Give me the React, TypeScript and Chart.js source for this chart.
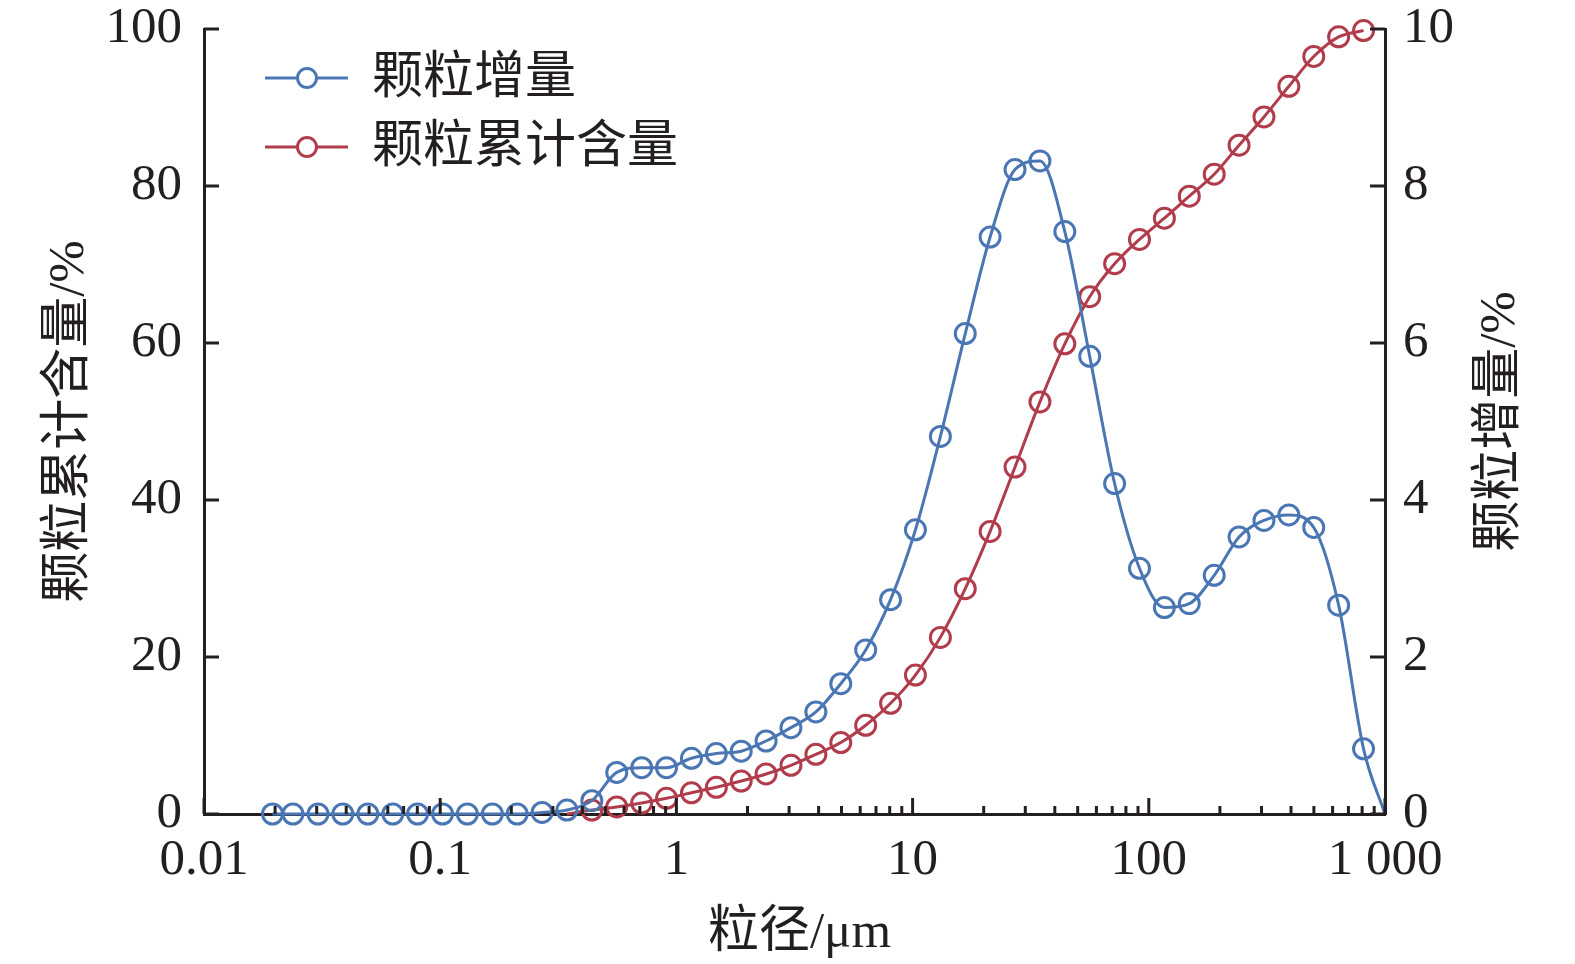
import React, { useEffect, useRef } from "react";
import { Chart, registerables } from "chart.js";

Chart.register(...registerables);

// particle size (μm)
const sizes = [
  0.0195, 0.0238, 0.0304, 0.0387, 0.0494, 0.063, 0.0802, 0.1023, 0.1303, 0.1663,
  0.2118, 0.27, 0.344, 0.4385, 0.559, 0.713, 0.908, 1.158, 1.476, 1.881,
  2.397, 3.055, 3.895, 4.965, 6.329, 8.067, 10.28, 13.11, 16.71, 21.29,
  27.14, 34.6, 44.1, 56.21, 71.65, 91.32, 116.4, 148.4, 189.2, 241.1,
  307.3, 391.7, 499.3, 636.4, 811.2, 1000,
];

// 颗粒增量 (%), right axis
const incrementValues = [
  0, 0, 0, 0, 0, 0, 0, 0, 0, 0,
  0, 0.02, 0.05, 0.17, 0.53, 0.59, 0.59, 0.71, 0.77, 0.8,
  0.93, 1.1, 1.3, 1.66, 2.09, 2.73, 3.62, 4.81, 6.12, 7.35,
  8.21, 8.32, 7.42, 5.83, 4.21, 3.13, 2.63, 2.68, 3.04, 3.53,
  3.74, 3.81, 3.65, 2.66, 0.83, 0,
];

// 颗粒累计含量 (%), left axis
const cumulativeValues = [
  null, null, null, null, null, null, null, null, null, null,
  null, null, 0, 0.5, 0.9, 1.4, 2.0, 2.7, 3.4, 4.2,
  5.1, 6.2, 7.6, 9.1, 11.3, 14.1, 17.7, 22.5, 28.7, 36.0,
  44.2, 52.5, 59.9, 65.9, 70.1, 73.2, 75.9, 78.7, 81.5, 85.2,
  88.8, 92.7, 96.5, 99.0, 99.8, null,
];

const seriesNames = ["颗粒增量", "颗粒累计含量"];
const xMajorTicks = [0.01, 0.1, 1, 10, 100, 1000];
const xTickLabels = ["0.01", "0.1", "1", "10", "100", "1 000"];
const xMinorMultipliers = [2, 3, 4, 5, 6, 7, 8, 9];
const leftTicks = [0, 20, 40, 60, 80, 100];
const rightTicks = [0, 2, 4, 6, 8, 10];
const xTitle = "粒径/μm";
const leftTitle = "颗粒累计含量/%";
const rightTitle = "颗粒增量/%";

const BLUE = "#4a76b4";
const RED = "#b03c4c";
const INK = "#231f20";
const SERIF = "'Liberation Serif', 'Noto Sans CJK SC', serif";

export default function App() {
  const ref = useRef<HTMLCanvasElement | null>(null);

  useEffect(() => {
    const canvas = ref.current;
    if (!canvas) return;
    const lastIdx = sizes.length - 1;

    const overlay = {
      id: "overlay",
      afterDraw(chart: any) {
        const ctx = chart.ctx;
        const a = chart.chartArea;
        const xs = chart.scales.x;
        const yl = chart.scales.yL;
        const yr = chart.scales.yR;
        ctx.save();
        ctx.strokeStyle = INK;
        ctx.lineWidth = 3;
        ctx.lineCap = "butt";
        // x ticks (inward)
        xMajorTicks.forEach((v, i) => {
          const px = xs.getPixelForValue(v);
          ctx.beginPath();
          ctx.moveTo(px, a.bottom);
          ctx.lineTo(px, a.bottom - 16);
          ctx.stroke();
          if (i < xMajorTicks.length - 1) {
            xMinorMultipliers.forEach((m) => {
              const mx = xs.getPixelForValue(v * m);
              ctx.beginPath();
              ctx.moveTo(mx, a.bottom);
              ctx.lineTo(mx, a.bottom - 8);
              ctx.stroke();
            });
          }
        });
        leftTicks.forEach((v) => {
          const py = yl.getPixelForValue(v);
          ctx.beginPath();
          ctx.moveTo(a.left, py);
          ctx.lineTo(a.left + 15, py);
          ctx.stroke();
        });
        rightTicks.forEach((v) => {
          const py = yr.getPixelForValue(v);
          ctx.beginPath();
          ctx.moveTo(a.right, py);
          ctx.lineTo(a.right - 15, py);
          ctx.stroke();
        });

        // titles
        ctx.fillStyle = INK;
        ctx.font = `51px ${SERIF}`;
        ctx.textAlign = "center";
        ctx.textBaseline = "middle";
        ctx.fillText(xTitle, (a.left + a.right) / 2 + 5, 934);
        const cy = (a.top + a.bottom) / 2;
        ctx.save();
        ctx.translate(70, cy);
        ctx.rotate(-Math.PI / 2);
        ctx.fillText(leftTitle, 0, 0);
        ctx.restore();
        ctx.save();
        ctx.translate(1501, cy);
        ctx.rotate(-Math.PI / 2);
        ctx.fillText(rightTitle, 0, 0);
        ctx.restore();

        // legend
        const colors = [BLUE, RED];
        const rows = [78, 147];
        ctx.font = `51px ${SERIF}`;
        ctx.textAlign = "left";
        seriesNames.forEach((name, i) => {
          const y = rows[i];
          ctx.strokeStyle = colors[i];
          ctx.lineWidth = 3;
          ctx.beginPath();
          ctx.moveTo(265, y);
          ctx.lineTo(348, y);
          ctx.stroke();
          ctx.beginPath();
          ctx.arc(307, y, 9.5, 0, Math.PI * 2);
          ctx.fillStyle = "#ffffff";
          ctx.fill();
          ctx.stroke();
          ctx.fillStyle = INK;
          ctx.fillText(name, 372, y + 2);
        });
        ctx.restore();
      },
    };

    const fixV = (w: number) => (s: any) => {
      s.width = w;
      s.paddingTop = 0;
      s.paddingBottom = 0;
    };

    const chart = new Chart(canvas, {
      type: "line",
      data: {
        datasets: [
          {
            label: seriesNames[0],
            yAxisID: "yR",
            data: sizes.map((s, i) => ({ x: s, y: incrementValues[i] })),
            borderColor: BLUE,
            backgroundColor: "rgba(0,0,0,0)",
            borderWidth: 3,
            pointRadius: (c: any) => (c.dataIndex === lastIdx ? 0 : 10),
            pointBorderWidth: 3,
            pointBorderColor: BLUE,
            pointBackgroundColor: "rgba(0,0,0,0)",
            cubicInterpolationMode: "monotone",
            clip: false,
          },
          {
            label: seriesNames[1],
            yAxisID: "yL",
            data: sizes.map((s, i) => ({ x: s, y: cumulativeValues[i] })),
            borderColor: RED,
            backgroundColor: "rgba(0,0,0,0)",
            borderWidth: 3,
            pointRadius: (c: any) => (c.dataIndex === 12 ? 0 : 10),
            pointBorderWidth: 3,
            pointBorderColor: RED,
            pointBackgroundColor: "rgba(0,0,0,0)",
            cubicInterpolationMode: "monotone",
            clip: false,
          },
        ],
      },
      options: {
        responsive: false,
        animation: false,
        layout: { padding: { top: 29, left: 0, right: 0, bottom: 0 } },
        plugins: { legend: { display: false }, tooltip: { enabled: false } },
        scales: {
          x: {
            type: "logarithmic",
            min: 0.01,
            max: 1000,
            afterBuildTicks: (s: any) => {
              s.ticks = xMajorTicks.map((v) => ({ value: v }));
            },
            afterFit: (s: any) => {
              s.height = 964 - 814;
              s.paddingLeft = 0;
              s.paddingRight = 0;
            },
            ticks: {
              autoSkip: false,
              maxRotation: 0,
              padding: 16,
              color: INK,
              font: { family: SERIF, size: 51 },
              callback: (v: any) => {
                const i = xMajorTicks.findIndex((m) => Math.abs(m - Number(v)) < m * 1e-6);
                return i >= 0 ? xTickLabels[i] : "";
              },
            },
            grid: { display: false, drawTicks: false },
            border: { display: true, color: INK, width: 3 },
          },
          yL: {
            type: "linear",
            position: "left",
            min: 0,
            max: 100,
            afterBuildTicks: (s: any) => {
              s.ticks = leftTicks.map((v) => ({ value: v }));
            },
            afterFit: fixV(204),
            ticks: {
              padding: 22,
              color: INK,
              font: { family: SERIF, size: 51, lineHeight: 1 },
            },
            grid: { display: false, drawTicks: false },
            border: { display: true, color: INK, width: 3 },
          },
          yR: {
            type: "linear",
            position: "right",
            min: 0,
            max: 10,
            afterBuildTicks: (s: any) => {
              s.ticks = rightTicks.map((v) => ({ value: v }));
            },
            afterFit: fixV(1575 - 1385),
            ticks: {
              padding: 18,
              color: INK,
              font: { family: SERIF, size: 51, lineHeight: 1 },
            },
            grid: { display: false, drawTicks: false },
            border: { display: true, color: INK, width: 3 },
          },
        },
      },
      plugins: [overlay],
    } as any);

    return () => chart.destroy();
  }, []);

  return (
    <div style={{ position: "absolute", left: 0, top: 0, width: 1575, height: 964, background: "#fff" }}>
      <canvas ref={ref} width={1575} height={964} style={{ width: 1575, height: 964, display: "block" }} />
    </div>
  );
}
